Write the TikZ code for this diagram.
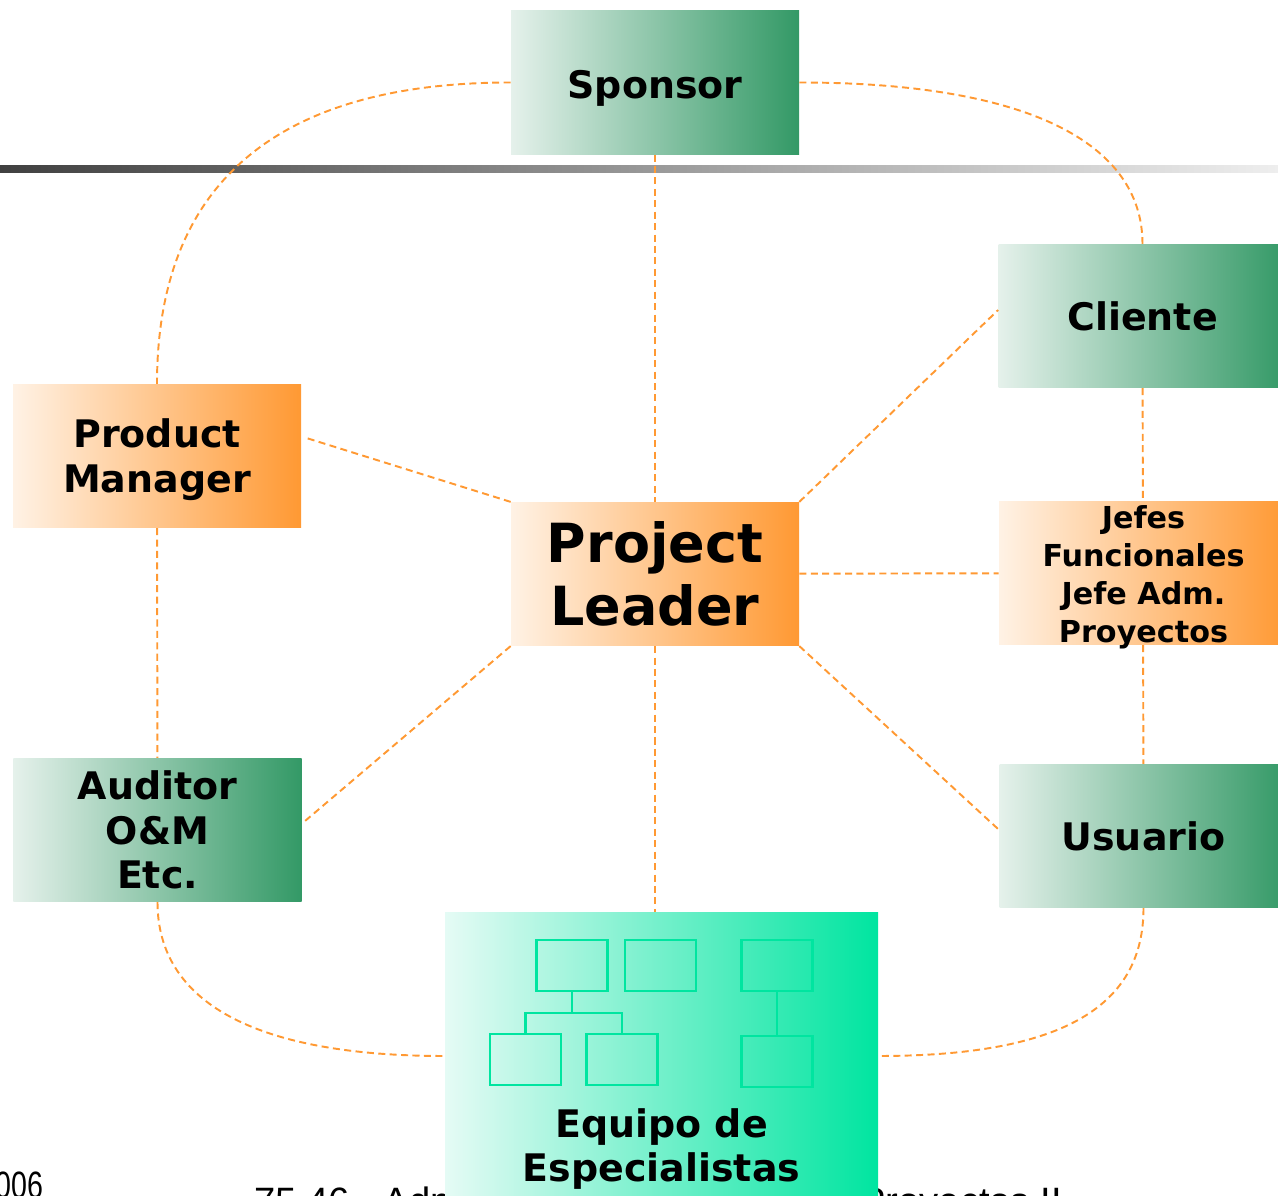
\documentclass[tikz,border=0pt]{standalone}
\usepackage{fontspec}
\setmainfont{DejaVu Sans}
\newfontfamily\footerfont{Liberation Sans}
\usetikzlibrary{positioning}
\usetikzlibrary{calc}
\definecolor{dashorange}{HTML}{FF9933}
\definecolor{boxgreen}{HTML}{339966}
\definecolor{boxgreenlight}{HTML}{E5F1EB}
\definecolor{boxorangelight}{HTML}{FFF2E5}
\definecolor{boxteal}{HTML}{00E5A0}
\definecolor{boxteallight}{HTML}{E5FBF5}
\definecolor{rulegray}{HTML}{404040}
\definecolor{rulelight}{HTML}{EEEEEE}
\begin{document}
\begin{tikzpicture}
	    [greenbox/.style={left color=boxgreenlight, right color=boxgreen, minimum width=5.76cm, minimum height=2.87cm, inner sep=0pt, align=center, font=\fontsize{21.6}{25.5}\selectfont\bfseries},
	    orangebox/.style={left color=boxorangelight, right color=dashorange, minimum width=5.76cm, minimum height=2.87cm, inner sep=0pt},
	    tealbox/.style={left color=boxteallight, right color=boxteal, minimum width=8.66cm, minimum height=5.74cm, inner sep=0pt},
	    orgbox/.style={draw=boxteal, line width=1.3pt, minimum width=1.42cm, minimum height=1.02cm, inner sep=0pt},
	    boxtext/.style={font=\fontsize{21.6}{25.5}\selectfont\bfseries, align=center, inner sep=0pt},
	    link/.style={draw=dashorange, line width=1.1pt, dash pattern=on 4pt off 2.5pt},
	    orgline/.style={draw=boxteal, line width=1.3pt},
	    footer/.style={font=\footerfont\fontsize{21.7}{24}\selectfont, inner sep=0pt, anchor=base west}]
	     \useasboundingbox (0,0) rectangle (25.56,23.92);
	     \shade[left color=rulegray, right color=rulelight] (0,20.46) rectangle (25.56,20.60);
	     \node[footer, xscale=0.75, transform shape] (year) at (-0.10, -0.05) {006};
	     \node[footer] (course) at (5.08, -0.38) {75.46 - Administración y Control de Proyectos II};
	     \node[greenbox] (SP) at (13.10, 22.27) {};
	     \node[boxtext] (SPlabel) at (13.10, 22.16) {Sponsor};
	     \node[greenbox] (CL) at (22.85, 17.60) {Cliente};
	     \node[greenbox] (US) at (22.87, 7.20) {Usuario};
	     \node[greenbox] (AU) at (3.15, 7.32) {Auditor\\O\&M\\Etc.};
	     \node[orangebox] (PM) at (3.14, 14.80) {};
	     \node[boxtext] (PMlabel) at (3.14, 14.72) {Product\\Manager};
	     \node[orangebox, align=center, font=\fontsize{30.7}{36}\selectfont\bfseries] (PL) at (13.10, 12.44) {Project\\Leader};
	     \node[orangebox] (JF) at (22.86, 12.46) {};
	     \node[boxtext, font=\fontsize{17.2}{21.6}\selectfont\bfseries] (JFlabel) at (22.87, 12.38) {Jefes\\Funcionales\\Jefe Adm.\\Proyectos};
	     \node[tealbox] (EQ) at (13.23, 2.80) {};
	     \node[boxtext] (EQlabel) at (13.23, 0.94) {Equipo de\\Especialistas};
	     \node[orgbox] (org1) at (11.44, 4.61) {};
	     \node[orgbox] (org2) at (13.21, 4.61) {};
	     \node[orgbox] (org3) at (15.54, 4.61) {};
	     \node[orgbox] (org4) at (10.51, 2.73) {};
	     \node[orgbox] (org5) at (12.44, 2.73) {};
	     \node[orgbox] (org6) at (15.54, 2.69) {};
	     \coordinate (orgbus) at (11.44, 3.66);
	     \draw[orgline] (org1) -- (orgbus);
	     \draw[orgline] (org4.north) |- (orgbus) -| (org5.north);
	     \draw[orgline] (org3) -- (org6);
	     \draw[link] (SP) -- (PL);
	     \draw[link] (PL) -- (JF);
	     \draw[link] (PL.south) -- (PL.south |- EQ.north);
	     \draw[link] (PL.north east) -- ([yshift=0.12cm]CL.west);
	     \draw[link] (PL.south east) -- ([yshift=0.12cm]US.west);
	     \draw[link] (PL.south west) -- ([shift={(0.04,0.16)}]AU.east);
	     \draw[link] (PL.north west) -- ([shift={(0.10,0.36)}]PM.east);
	     \draw[link] (PM) -- (AU);
	     \draw[link] (CL) -- (JF);
	     \draw[link] (JF) -- (US);
	     \draw[link] (SP.west) to[out=180,in=90,out distance=4.8cm,in distance=3.9cm] (PM.north);
	     \draw[link] (SP.east) to[out=0,in=90,out distance=4.6cm,in distance=2cm] (CL.north);
	     \draw[link] (AU.south) to[out=-90,in=180,out distance=2cm,in distance=3.8cm] (EQ.west);
	     \draw[link] (US.south) to[out=-90,in=0,out distance=1.9cm,in distance=3.8cm] (EQ.east);
\end{tikzpicture}
\end{document}
